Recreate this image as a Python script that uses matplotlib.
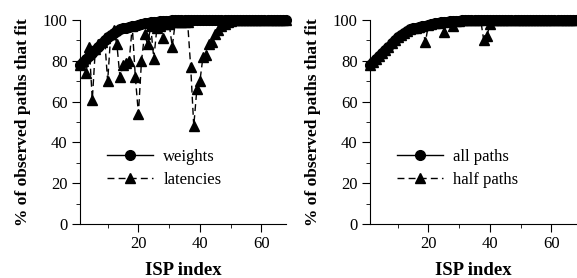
import numpy as np
import matplotlib
matplotlib.use("Agg")
import matplotlib.pyplot as plt
from matplotlib.ticker import MultipleLocator

plt.rcParams["font.family"] = ["Liberation Serif", "DejaVu Serif"]
plt.rcParams["font.size"] = 12

isp = np.arange(1, 69)

# sorted fit percentage (weights / all paths)
weights = [78, 79.5, 81, 82.5, 84, 85.5, 87, 88.5, 90, 91.5,
           92.5, 93.5, 94.5, 95.5, 96, 96.3, 96.6, 97, 97.3, 97.6,
           98, 98.3, 98.5, 98.8, 99, 99.2, 99.4, 99.5, 99.6, 99.7,
           99.8, 99.8, 99.9, 99.9, 99.9, 100, 100, 100, 100, 100,
           100, 100, 100, 100, 100, 100, 100, 100, 100, 100,
           100, 100, 100, 100, 100, 100, 100, 100, 100, 100,
           100, 100, 100, 100, 100, 100, 100, 100]

latencies = [78, 80, 74, 87, 61, 86, 88, 89, 91, 70,
             93, 95, 88, 72, 78, 79, 80, 97, 72, 54,
             80, 93, 88, 97, 81, 96, 97, 91, 98, 98,
             87, 99, 99, 99, 99, 99, 77, 48, 66, 70,
             82, 83, 88, 89, 93, 95, 97, 98, 99, 99.5,
             100, 100, 100, 100, 100, 100, 100, 100, 100, 100,
             100, 100, 100, 100, 100, 100, 100, 100]

all_paths = weights
half_paths = [78, 79.5, 81, 82.5, 84, 85.5, 87, 88.5, 90, 91.5,
              92.5, 93.5, 94.5, 95.5, 96, 96.3, 96.6, 97, 89, 97.6,
              98, 98.3, 98.5, 98.8, 94, 99.2, 99.4, 97, 99.6, 99.7,
              99.8, 99.8, 99.9, 99.9, 99.9, 100, 100, 90, 92, 98,
              100, 100, 100, 100, 100, 100, 100, 100, 100, 100,
              100, 100, 100, 100, 100, 100, 100, 100, 100, 100,
              100, 100, 100, 100, 100, 100, 100, 100]

W, H = 577, 278
fig = plt.figure(figsize=(W / 100, H / 100), dpi=100)


def panel(left, solid, dashed, labels):
    ax = fig.add_axes([left / W, 54 / H, 206 / W, 204 / H])
    ax.plot(isp, solid, "-", color="black", marker="o", markersize=7,
            lw=1, clip_on=False, label=labels[0], zorder=3)
    ax.plot(isp, dashed, color="black", marker="^", markersize=7,
            lw=1, dashes=(5, 3), clip_on=False, label=labels[1], zorder=2)
    ax.set_xlim(1, 68)
    ax.set_ylim(0, 100)
    ax.spines["top"].set_visible(False)
    ax.spines["right"].set_visible(False)
    ax.xaxis.set_major_locator(MultipleLocator(20))
    ax.xaxis.set_minor_locator(MultipleLocator(10))
    ax.yaxis.set_major_locator(MultipleLocator(20))
    ax.yaxis.set_minor_locator(MultipleLocator(10))
    ax.tick_params(axis="both", which="major", direction="out", length=6,
                   width=0.8, labelsize=12, pad=3)
    ax.tick_params(axis="both", which="minor", direction="out", length=3)
    ax.set_xlabel("ISP index", fontweight="bold", fontsize=13.5, labelpad=7)
    ax.set_ylabel("% of observed paths that fit", fontweight="bold",
                  fontsize=12.5, labelpad=8.5)
    ax.legend(loc="center left", bbox_to_anchor=(0.13, 0.272),
              frameon=False, handlelength=2.8, handletextpad=0.6,
              labelspacing=0.4, borderpad=0, borderaxespad=0,
              fontsize=12)
    return ax


panel(80, weights, latencies, ["weights", "latencies"])
panel(370, all_paths, half_paths, ["all paths", "half paths"])

fig.savefig("out.png", dpi=100)
